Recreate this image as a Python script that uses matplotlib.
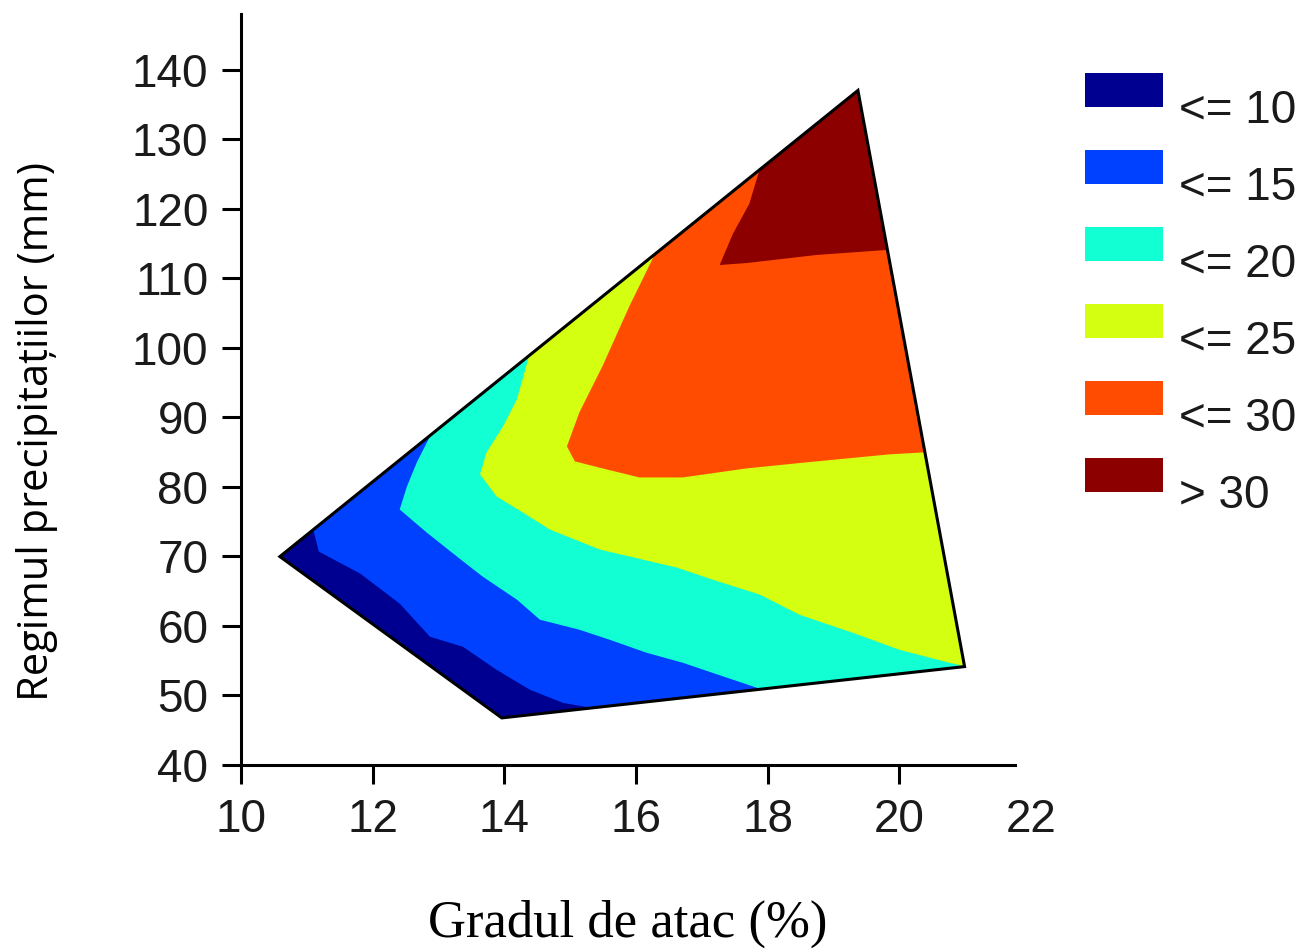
import numpy as np
import matplotlib.pyplot as plt
from matplotlib.patches import Polygon, Rectangle

# legend classes and colours (jet-like)
labels = ['<= 10', '<= 15', '<= 20', '<= 25', '<= 30', '> 30']
colors = ['#000090', '#0040ff', '#12ffd4', '#d4ff10', '#ff4c00', '#8c0000']

# outer boundary of the data (convex hull)
hull_x = [10.59, 13.96, 20.99, 19.37]
hull_y = [69.97, 46.77, 54.15, 137.0]

# iso lines (from one hull edge to another)
iso10_x = [11.09, 11.18, 11.81, 12.41, 12.87, 13.37, 13.88, 14.39, 14.89, 15.33]
iso10_y = [74.15, 70.69, 67.52, 63.2, 58.44, 57.0, 53.69, 50.81, 48.93, 48.2]

iso15_x = [12.87, 12.67, 12.52, 12.41, 12.82, 13.28, 13.67, 14.19, 14.54, 15.14, 15.60, 16.16, 16.71, 17.16, 17.75]
iso15_y = [87.26, 83.52, 80.06, 76.74, 73.43, 69.97, 67.09, 63.78, 60.89, 59.45, 58.01, 56.14, 54.70, 53.26, 51.38]

iso20_x = [14.34, 14.19, 13.98, 13.73, 13.63, 13.88, 14.28, 14.69, 15.45, 16.62, 17.16, 17.88, 18.48, 19.29, 20.0, 20.76, 21.03]
iso20_y = [97.64, 92.59, 88.70, 84.96, 81.79, 78.62, 76.31, 73.86, 70.98, 68.39, 66.66, 64.50, 61.61, 59.02, 56.57, 54.70, 54.12]

iso25_x = [16.25, 15.90, 15.49, 15.14, 14.95, 15.07, 15.55, 16.05, 16.71, 17.68, 18.59, 19.85, 20.38]
iso25_y = [112.77, 106.0, 97.35, 90.72, 85.82, 83.66, 82.51, 81.35, 81.35, 82.65, 83.52, 84.67, 84.96]

iso30_x = [17.88, 17.72, 17.47, 17.27, 17.68, 18.74, 19.80]
iso30_y = [125.73, 120.69, 116.37, 111.90, 112.18, 113.34, 114.06]

isolines = [(iso10_x, iso10_y), (iso15_x, iso15_y), (iso20_x, iso20_y),
            (iso25_x, iso25_y), (iso30_x, iso30_y)]


def extend(xs, ys, d=0.6):
    # push both ends a little outside the hull (x scaled ~ 10x y in pixels)
    p = np.column_stack([xs, ys]).astype(float)
    s = np.array([1.0, 0.105])
    def push(a, b):
        v = (a - b) * s
        v = v / np.hypot(*v)
        return a + v * d / s
    return np.vstack([push(p[0], p[1]), p, push(p[-1], p[-2])])


fig = plt.figure(figsize=(13.03, 9.49), dpi=100)
ax = fig.add_axes([0.185, 0.1939, 0.6063, 0.7914])

hull = Polygon(np.column_stack([hull_x, hull_y]), closed=True,
               facecolor=colors[0], edgecolor='none', zorder=1)
ax.add_patch(hull)

for k, (xs, ys) in enumerate(isolines):
    pts = extend(xs, ys)
    ring = np.vstack([pts, [[24, 35], [24, 160], [pts[0][0], 160]]])
    band = Polygon(ring, closed=True, facecolor=colors[k + 1],
                   edgecolor='none', zorder=2 + k)
    ax.add_patch(band)
    band.set_clip_path(hull)

ax.add_patch(Polygon(np.column_stack([hull_x, hull_y]), closed=True,
                     fill=False, edgecolor='black', lw=2.2, zorder=10))

ax.set_xlim(10, 22)
ax.set_ylim(40, 148)
ax.set_xticks(range(10, 23, 2))
ax.set_yticks(range(40, 141, 10))
for sp in ['top', 'right']:
    ax.spines[sp].set_visible(False)
for sp in ['left', 'bottom']:
    ax.spines[sp].set_linewidth(2.2)
ax.spines['bottom'].set_bounds(10, 21.75)
ax.tick_params(direction='out', length=13.5, width=2.2, pad=10,
               labelsize=33, labelcolor='#1a1a1a')
for lab in ax.get_xticklabels() + ax.get_yticklabels():
    lab.set_fontfamily('Liberation Sans')
ax.xaxis.get_major_ticks()[-1].tick1line.set_visible(False)

fig.text(0.482, 0.0126, 'Gradul de atac (%)', family='Liberation Serif',
         fontsize=38, ha='center', va='baseline')
fig.text(0.0284, 0.5448, 'Regimul precipitațiilor (mm)', family='Open Sans',
         fontsize=30, rotation=90, ha='center', va='center')

# legend
for k, (lab, col) in enumerate(zip(labels, colors)):
    y0 = 0.8876 - k * 0.08124
    fig.add_artist(Rectangle((0.8327, y0), 0.0599, 0.0358, transform=fig.transFigure,
                             facecolor=col, edgecolor='none'))
    fig.text(0.905, y0 - 0.0172, lab, family='Liberation Sans', fontsize=33,
             color='#1a1a1a', ha='left', va='baseline')

fig.savefig('out.png', dpi=100)
